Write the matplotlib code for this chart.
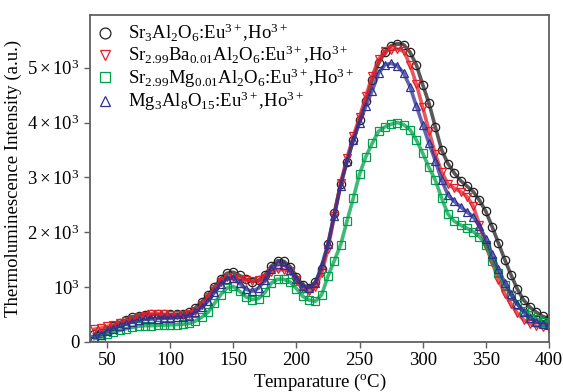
import numpy as np
import matplotlib
matplotlib.use("Agg")
import matplotlib.pyplot as plt

plt.rcParams['font.family'] = 'Liberation Serif'
plt.rcParams['mathtext.fontset'] = 'custom'
plt.rcParams['mathtext.rm'] = 'Liberation Serif'
plt.rcParams['mathtext.it'] = 'Liberation Serif:italic'
plt.rcParams['mathtext.bf'] = 'Liberation Serif:bold'

# temperature grid (deg C) and glow curves
temp = np.arange(40, 401, 5)

sr3 = [140, 170, 220, 290, 350, 400, 450, 480, 495, 500, 500, 500, 500, 505, 510,
       540, 620, 730, 850, 1000, 1150, 1250, 1270, 1210, 1140, 1100, 1120, 1220,
       1380, 1480, 1470, 1370, 1190, 1030, 990, 1090, 1330, 1780, 2350, 2880, 3280,
       3680, 4050, 4400, 4780, 5080, 5280, 5400, 5440, 5420, 5280, 5050, 4690, 4350,
       3920, 3500, 3250, 3080, 2940, 2840, 2740, 2580, 2380, 2100, 1800, 1500, 1220,
       960, 760, 630, 540, 465, 420]

ba = [230, 250, 280, 310, 350, 380, 410, 450, 480, 505, 510, 500, 487, 485, 490,
      510, 570, 670, 820, 960, 1100, 1180, 1190, 1150, 1130, 1110, 1120, 1160,
      1280, 1320, 1310, 1300, 1120, 960, 920, 1000, 1250, 1700, 2300, 2900, 3350,
      3750, 4100, 4480, 4850, 5150, 5300, 5330, 5340, 5300, 5050, 4700, 4280, 3850,
      3420, 3100, 2880, 2800, 2740, 2650, 2480, 2130, 1750, 1450, 1130, 880, 690,
      520, 400, 330, 285, 270, 260]

mg = [60, 90, 140, 175, 210, 240, 265, 285, 295, 295, 300, 305, 310, 315, 320,
      335, 380, 450, 540, 700, 860, 980, 1010, 920, 820, 770, 790, 900, 1070, 1140,
      1140, 1090, 970, 830, 760, 740, 860, 1200, 1480, 1770, 2200, 2620, 3060, 3380,
      3620, 3840, 3920, 3970, 4000, 3960, 3870, 3680, 3440, 3180, 2950, 2620, 2330,
      2200, 2130, 2070, 2010, 1920, 1770, 1480, 1250, 1030, 850, 690, 570, 490, 420,
      370, 330]

mg3 = [90, 130, 190, 240, 290, 330, 365, 390, 410, 415, 425, 430, 435, 445, 455,
       480, 540, 630, 740, 900, 1060, 1150, 1160, 1070, 960, 920, 980, 1120, 1330,
       1420, 1410, 1310, 1140, 1010, 990, 1070, 1400, 1780, 2300, 2850, 3300, 3680,
       4000, 4300, 4580, 4900, 5050, 5080, 5030, 4900, 4650, 4300, 3960, 3620, 3300,
       2950, 2680, 2560, 2460, 2370, 2280, 2110, 1880, 1600, 1320, 1080, 870, 690,
       540, 430, 370, 330, 300]

labels = [r'Sr$_3$Al$_2$O$_6$:Eu$^{3+}$,Ho$^{3+}$',
          r'Sr$_{2.99}$Ba$_{0.01}$Al$_2$O$_6$:Eu$^{3+}$,Ho$^{3+}$',
          r'Sr$_{2.99}$Mg$_{0.01}$Al$_2$O$_6$:Eu$^{3+}$,Ho$^{3+}$',
          r'Mg$_3$Al$_8$O$_{15}$:Eu$^{3+}$,Ho$^{3+}$']

yticks = [0, 1000, 2000, 3000, 4000, 5000]
ytick_labels = ['0', r'$10^3$', r'$2\times10^3$', r'$3\times10^3$',
                r'$4\times10^3$', r'$5\times10^3$']
xticks = [50, 100, 150, 200, 250, 300, 350, 400]

fig = plt.figure(figsize=(5.63, 3.92), dpi=100)
ax = fig.add_axes([0.160, 0.128, 0.815, 0.835])

styles = [('o', '#231f20'), ('v', '#e3202a'), ('s', '#00a04b'), ('^', '#2e3192')]
for vals, lab, (m, c) in zip([sr3, ba, mg, mg3], labels, styles):
    # thick line under hollow markers to mimic the dense marker band
    ax.plot(temp, vals, linestyle='-', lw=2.6, color=c, alpha=0.75)
    ax.plot(temp, vals, linestyle='none', marker=m, ms=6,
            mfc='none', mec=c, mew=0.9, label=lab)

ax.set_xlim(36.5, 400)
ax.set_ylim(0, 5970)
ax.set_xticks(xticks)
ax.set_yticks(yticks)
ax.set_yticklabels(ytick_labels)
ax.tick_params(labelsize=13.5, direction='out', length=4, color='#606060', width=1)
for sp in ax.spines.values():
    sp.set_color('#606060')
    sp.set_linewidth(1.3)

ax.set_xlabel(r'Temparature ($^{\rm o}$C)', fontsize=13.5, labelpad=2)
ax.set_ylabel('Thermoluminescence Intensity (a.u.)', fontsize=13.5, labelpad=4)

leg = ax.legend(loc='upper left', frameon=False, fontsize=13.5, handlelength=0.8,
                handletextpad=0.8, labelspacing=0.0, borderaxespad=0.2,
                borderpad=0.2, markerscale=1.3)

fig.savefig('out.png', dpi=100)
